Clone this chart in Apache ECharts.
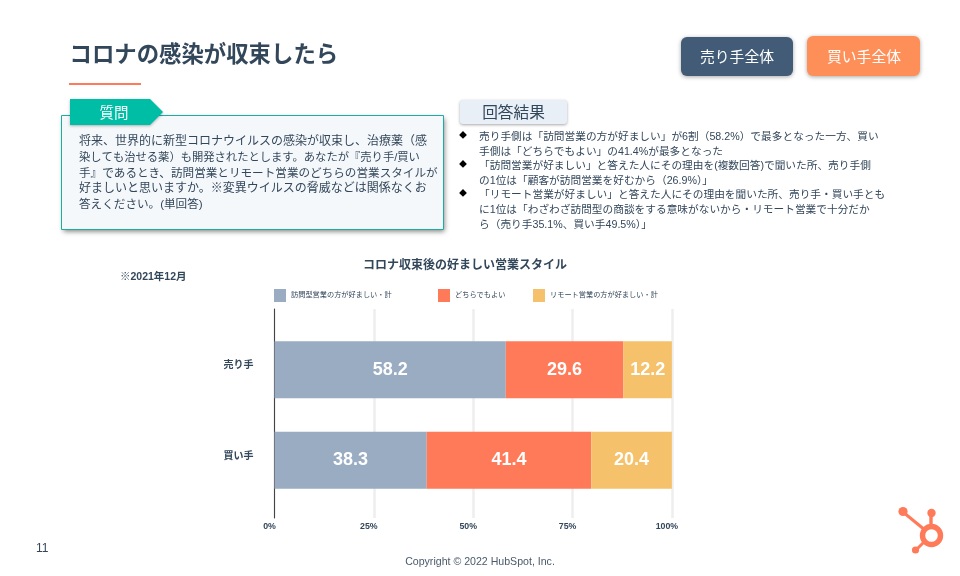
<!DOCTYPE html>
<html>
<head>
<meta charset="utf-8">
<style>
  html, body { margin: 0; padding: 0; background: #fff; }
  #chart { width: 960px; height: 576px; }
</style>
<script src="https://cdn.jsdelivr.net/npm/echarts@6/dist/echarts.min.js"></script>
</head>
<body>
<div id="chart"></div>
<script>
var categories = ['売り手', '買い手'];
var seriesNames = ['訪問型営業の方が好ましい・計', 'どちらでもよい', 'リモート営業の方が好ましい・計'];
var visitValues = [58.2, 38.3];
var eitherValues = [29.6, 41.4];
var remoteValues = [12.2, 20.4];
var xTicks = [0, 25, 50, 75, 100];

var questionLines = [
    '将来、世界的に新型コロナウイルスの感染が収束し、治療薬（感',
    '染しても治せる薬）も開発されたとします。あなたが『売り手/買い',
    '手』であるとき、訪問営業とリモート営業のどちらの営業スタイルが',
    '好ましいと思いますか。※変異ウイルスの脅威などは関係なくお',
    '答えください。(単回答)'
];
var answerLines = [
    '売り手側は「訪問営業の方が好ましい」が6割（58.2%）で最多となった一方、買い',
    '手側は「どちらでもよい」の41.4%が最多となった',
    '「訪問営業が好ましい」と答えた人にその理由を(複数回答)で聞いた所、売り手側',
    'の1位は「顧客が訪問営業を好むから（26.9%）」',
    '「リモート営業が好ましい」と答えた人にその理由を聞いた所、売り手・買い手とも',
    'に1位は「わざわざ訪問型の商談をする意味がないから・リモート営業で十分だか',
    'ら（売り手35.1%、買い手49.5%）」'
];

var jp = '"Liberation Sans", "Noto Sans CJK JP", sans-serif';
var dark = '#33475b';

function label(x, y, text, size, color, weight, align) {
    return {
        type: 'text', x: x, y: y,
        style: {
            text: text, fontSize: size, fontFamily: jp, fill: color,
            fontWeight: weight || 'normal', align: align || 'left', verticalAlign: 'middle'
        }
    };
}

// 图形元素：标题、按钮、问题框、回答
var shapes = [
    label(69.5, 56, 'コロナの感染が収束したら', 22.4, dark, 'bold'),
    { type: 'rect', shape: { x: 69, y: 83, width: 72, height: 2 }, style: { fill: '#ff7a59' } },
    // 按钮
    {
        type: 'rect', shape: { x: 681, y: 37, width: 112, height: 39, r: 6 },
        style: { fill: '#425b76', shadowBlur: 4, shadowColor: 'rgba(0,0,0,.35)', shadowOffsetY: 1 }
    },
    label(737, 58, '売り手全体', 14.8, '#fff', 'normal', 'center'),
    {
        type: 'rect', shape: { x: 807, y: 36, width: 113, height: 40, r: 6 },
        style: { fill: '#ff8f59', shadowBlur: 4, shadowColor: 'rgba(0,0,0,.35)', shadowOffsetY: 1 }
    },
    label(864, 58, '買い手全体', 14.8, '#fff', 'normal', 'center'),
    // 問題框：阴影和边框分开画，边框才不会发黑
    {
        type: 'rect', shape: { x: 61.5, y: 115.5, width: 382, height: 114 },
        style: {
            fill: '#f5f8fb',
            shadowBlur: 5, shadowColor: 'rgba(0,0,0,.5)', shadowOffsetX: 1, shadowOffsetY: 2
        }
    },
    {
        type: 'rect', shape: { x: 61.5, y: 115.5, width: 382, height: 114 },
        style: { fill: '#f5f8fb', stroke: '#1aae9f', lineWidth: 1 }
    },
    {
        type: 'polygon', shape: { points: [[70, 99], [150, 99], [163, 112], [150, 125], [70, 125]] },
        style: { fill: '#00bda5', shadowBlur: 3, shadowColor: 'rgba(0,0,0,.3)', shadowOffsetY: 1 }
    },
    label(114, 114, '質問', 14.5, '#fff', 'normal', 'center'),
    // 回答結果
    {
        type: 'rect', shape: { x: 460, y: 100, width: 107, height: 24, r: 3 },
        style: { fill: '#e8eff6', shadowBlur: 3, shadowColor: 'rgba(0,0,0,.35)', shadowOffsetY: 1 }
    },
    label(513.5, 114, '回答結果', 15.7, dark, 'normal', 'center'),
    label(120, 277, '※2021年12月', 10.5, dark, 'bold'),
    label(36, 549, '11', 12, dark),
    label(480, 562, 'Copyright © 2022 HubSpot, Inc.', 10.6, '#4a5a6a', 'normal', 'center')
];

// 原图标点较窄，每行字号稍微调一下让行宽接近
var questionSizes = [12, 11.3, 11.6, 12, 11.6];
questionLines.forEach(function (line, i) {
    shapes.push(label(79, 142 + i * 15.7, line, questionSizes[i], dark));
});

var answerY = [137.5, 152, 166.5, 181, 195.5, 210, 225];
answerLines.forEach(function (line, i) {
    shapes.push(label(479, answerY[i], line, 10.7, dark));
});
[136, 165, 194].forEach(function (y) {
    shapes.push(label(463, y, '◆', 8, '#000', 'normal', 'center'));
});

// HubSpot logo
var logo = '#ff7a59';
shapes.push(
    { type: 'line', shape: { x1: 903, y1: 512, x2: 931, y2: 535 }, style: { stroke: logo, lineWidth: 3 } },
    { type: 'line', shape: { x1: 916, y1: 550, x2: 931, y2: 535 }, style: { stroke: logo, lineWidth: 3 } },
    { type: 'line', shape: { x1: 931, y1: 513, x2: 931, y2: 530 }, style: { stroke: logo, lineWidth: 3.4 } },
    { type: 'circle', shape: { cx: 903, cy: 511.5, r: 4.6 }, style: { fill: logo } },
    { type: 'circle', shape: { cx: 931.5, cy: 513, r: 4.2 }, style: { fill: logo } },
    { type: 'circle', shape: { cx: 915.5, cy: 550, r: 3.6 }, style: { fill: logo } },
    { type: 'circle', shape: { cx: 931.5, cy: 535.5, r: 9 }, style: { fill: '#fff', stroke: logo, lineWidth: 5.4 } }
);

var myChart = echarts.init(document.getElementById('chart'), null, { renderer: 'canvas' });

function barSeries(name, values, color) {
    return {
        name: name,
        type: 'bar',
        stack: 'total',
        barWidth: 57,
        xAxisIndex: 0,
        yAxisIndex: 0,
        data: values,
        itemStyle: { color: color },
        label: {
            show: true,
            position: 'inside',
            color: '#fff',
            fontSize: 18,
            fontWeight: 'bold',
            fontFamily: '"Liberation Sans", Arial, sans-serif',
            formatter: function (p) { return p.value.toFixed(1); }
        }
    };
}

// 图例三项间距不一样，分成三个legend
function legendAt(left, name) {
    return {
        left: left,
        top: 289,
        itemWidth: 12,
        itemHeight: 13,
        padding: 0,
        icon: 'rect',
        data: [name],
        textStyle: { fontSize: 7.2, color: dark, fontFamily: jp }
    };
}

var option = {
    animation: false,
    backgroundColor: '#fff',
    textStyle: { fontFamily: jp },
    title: {
        text: 'コロナ収束後の好ましい営業スタイル',
        left: 460,
        top: 255,
        textAlign: 'center',
        textStyle: { fontSize: 12, fontWeight: 'bold', color: dark, fontFamily: jp }
    },
    legend: [
        legendAt(274, seriesNames[0]),
        legendAt(438, seriesNames[1]),
        legendAt(533, seriesNames[2])
    ],
    // 第一个grid放柱子，第二个grid放坐标轴和分隔线（比柱子区域更高）
    grid: [
        { left: 274.5, width: 397.4, top: 324.5, height: 181 },
        { left: 274.5, width: 397.4, top: 309, height: 209 }
    ],
    xAxis: [
        { gridIndex: 0, type: 'value', min: 0, max: 100, show: false },
        {
            gridIndex: 1, type: 'value', min: xTicks[0], max: xTicks[xTicks.length - 1], interval: 25,
            axisLine: { show: false },
            axisTick: { show: false },
            splitLine: { show: true, lineStyle: { color: '#eeeeee', width: 2.5 } },
            axisLabel: {
                color: dark, fontSize: 8.8, fontWeight: 'bold', margin: 4,
                fontFamily: '"Liberation Sans", Arial, sans-serif',
                padding: [0, 10, 0, 0],
                formatter: '{value}%'
            }
        }
    ],
    yAxis: [
        {
            gridIndex: 0, type: 'category', inverse: true, data: categories,
            axisLine: { show: false },
            axisTick: { show: false },
            axisLabel: {
                color: dark, fontSize: 10, fontWeight: 'bold', margin: 21,
                verticalAlign: 'bottom', lineHeight: 9, fontFamily: jp
            }
        },
        {
            gridIndex: 1, type: 'value', min: 0, max: 1,
            axisLine: { show: true, lineStyle: { color: '#444444', width: 1 } },
            axisTick: { show: false },
            axisLabel: { show: false },
            splitLine: { show: false }
        }
    ],
    series: [
        barSeries(seriesNames[0], visitValues, '#99acc2'),
        barSeries(seriesNames[1], eitherValues, '#ff7a59'),
        barSeries(seriesNames[2], remoteValues, '#f5c26b')
    ],
    graphic: { elements: shapes }
};

myChart.setOption(option);
</script>
</body>
</html>
